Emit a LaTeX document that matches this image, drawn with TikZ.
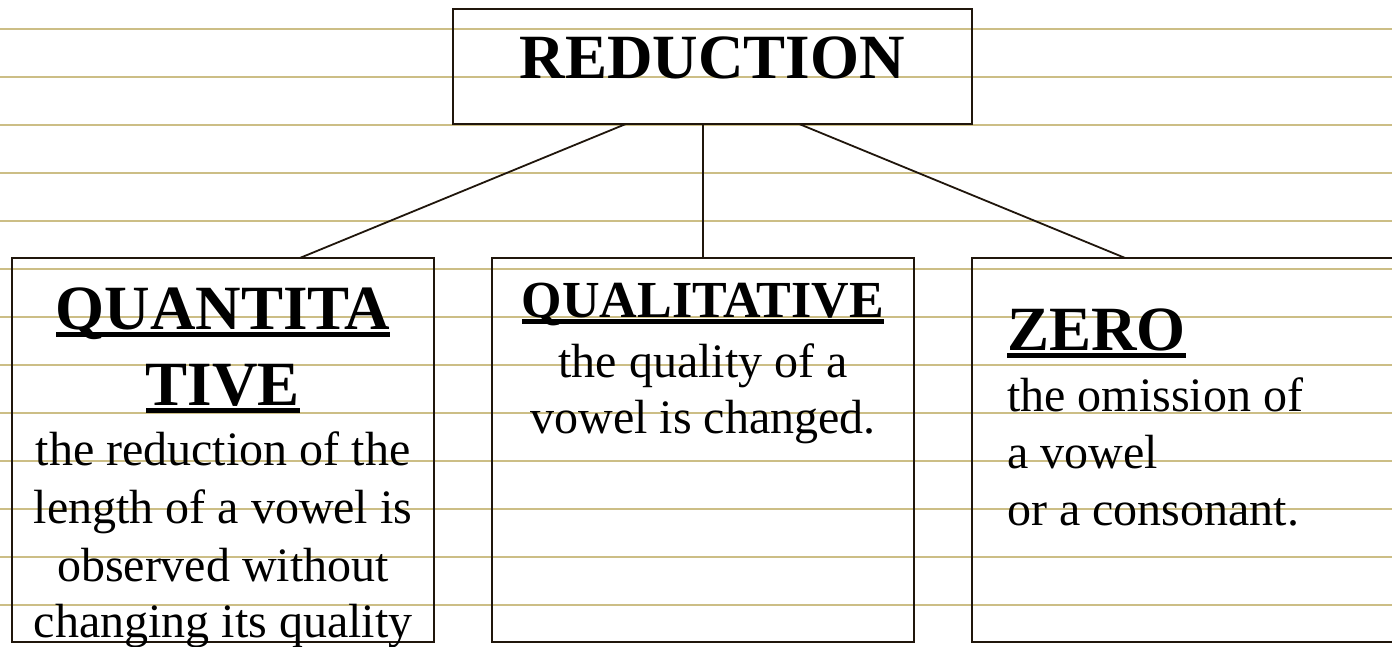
\documentclass[tikz,border=0pt]{standalone}
\usepackage{fontspec}
\setmainfont{Liberation Serif}
\usetikzlibrary{calc}
\definecolor{ruled}{RGB}{204,190,134}
\definecolor{ink}{RGB}{32,22,12}
\newcommand\myul[1]{\setbox0=\hbox{#1}\rlap{\rule[-0.125em]{\wd0}{0.08em}}\box0}
\tikzset{
  box/.style={draw=ink, line width=2pt, inner sep=0pt, outer sep=0pt, anchor=north west},
  conn/.style={draw=ink, line width=1.8pt},
  head/.style={font=\fontsize{63}{75}\selectfont\bfseries, inner sep=0pt, anchor=base},
  headsmall/.style={font=\fontsize{52}{62}\selectfont\bfseries, inner sep=0pt, anchor=base},
  body/.style={font=\fontsize{48}{57}\selectfont, inner sep=0pt, anchor=base},
  bodyleft/.style={font=\fontsize{48}{57}\selectfont, inner sep=0pt, anchor=base west},
  headleft/.style={font=\fontsize{63}{75}\selectfont\bfseries, inner sep=0pt, anchor=base west},
  rule/.style={draw=ruled, line width=1.8pt}
}
\begin{document}
\begin{tikzpicture}[x=1pt,y=-1pt]
\clip (0,0) rectangle (1392,647);
\fill[white] (0,0) rectangle (1392,647);
% ruled lines
\foreach \k in {0,...,12} {
  \draw[rule] (0,{29+48*\k}) -- (1392,{29+48*\k});
}
% boxes
\node[box, minimum width=519pt, minimum height=114.5pt] (red) at (453,9.5) {};
\node[box, minimum width=422pt, minimum height=384pt] (quan) at (12,258) {};
\node[box, minimum width=422pt, minimum height=384pt] (qual) at (492,258) {};
\node[box, minimum width=422pt, minimum height=384pt] (zero) at (972,258) {};
% connectors
\draw[conn] ($(red.south west)!0.333!(red.south east)$) -- ($(quan.north west)!0.682!(quan.north east)$);
\draw[conn] (red.south -| qual.north) -- (qual.north);
\draw[conn] ($(red.south west)!0.667!(red.south east)$) -- ($(zero.north west)!0.363!(zero.north east)$);
% texts
\node[head] (tred) at (712.5,79) {REDUCTION};
\node[head] (tq1) at (223,329) {\myul{QUANTITA}};
\node[head] (tq2) at (223,405) {\myul{TIVE}};
\node[body] (tq3) at (223,465) {the reduction of the};
\node[body] (tq4) at (223,523) {length of a vowel is};
\node[body] (tq5) at (223,581) {observed without};
\node[body] (tq6) at (223,637) {changing its quality};
\node[headsmall] (tl1) at (703,317) {\myul{QUALITATIVE}};
\node[body] (tl2) at (703,377) {the quality of a};
\node[body] (tl3) at (703,433) {vowel is changed.};
\node[headleft] (tz1) at (1007,350) {\myul{ZERO}};
\node[bodyleft] (tz2) at (1007,411) {the omission of};
\node[bodyleft] (tz3) at (1007,468) {a vowel};
\node[bodyleft] (tz4) at (1007,525) {or a consonant.};
\end{tikzpicture}
\end{document}
